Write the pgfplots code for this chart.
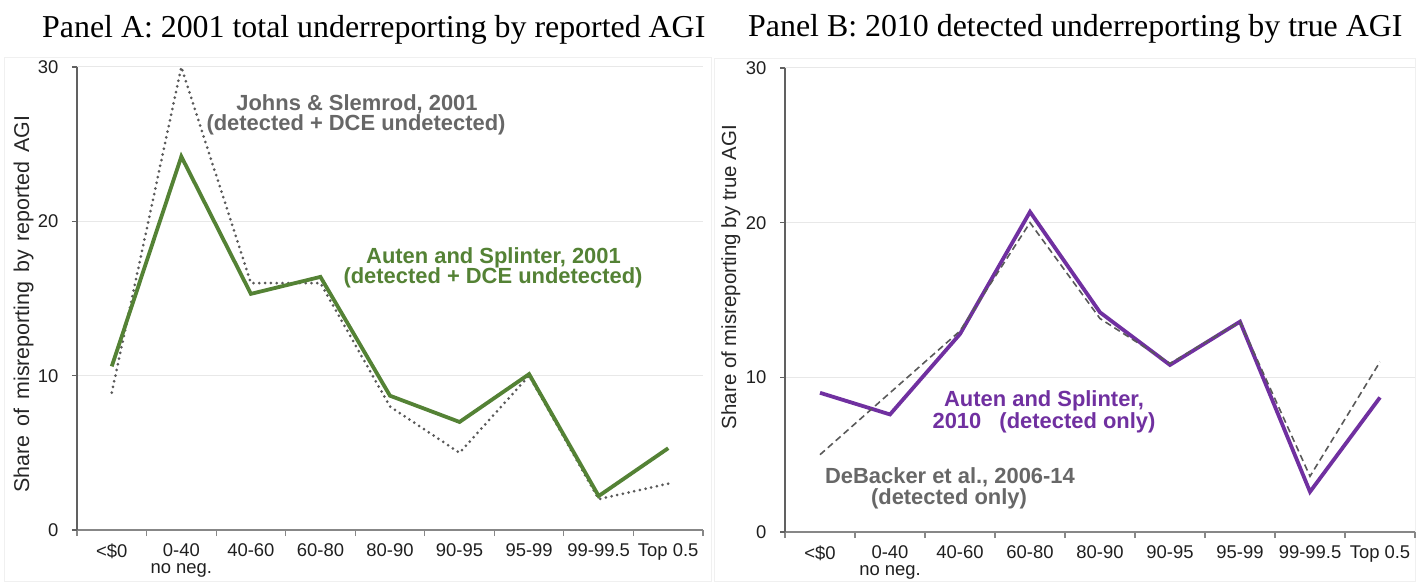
\documentclass[border=0pt]{standalone}
\usepackage{fontspec}
\setmainfont{Liberation Serif}
\newfontfamily\arial{Liberation Sans}
\usepackage{pgfplots}
\pgfplotsset{compat=1.18}

\definecolor{asgreen}{HTML}{548235}
\definecolor{aspurple}{HTML}{7030A0}
\definecolor{refgray}{HTML}{595959}
\definecolor{notegray}{HTML}{676767}

\newcommand{\fs}[1]{\fontsize{#1}{#1}\selectfont}

\pgfplotsset{
  panel/.style={
    scale only axis,
    xmin=0, xmax=9, ymin=0, ymax=30,
    clip=false,
    axis x line=bottom, axis y line=left, axis line style={-},
    x axis line style={color=black!47, line width=1.1bp},
    y axis line style={color=black!62, line width=1.1bp},
    xtick={0.5,1.5,...,8.5},
    xticklabels={{<\$0},{0-40\\no neg.},{40-60},{60-80},{80-90},{90-95},{95-99},{99-99.5},{Top 0.5}},
    minor xtick={0,1,...,9},
    major x tick style={draw=none},
    minor x tick style={black!47, line width=1.1bp},
    ytick={0,10,20,30},
    major y tick style={black!62, line width=1.1bp},
    tick align=outside,
    major tick length=5bp, minor tick length=6bp,
    ymajorgrids,
    major grid style={black!9, line width=1bp},
    /pgf/number format/assume math mode=true,
    tick label style={font=\arial\fontsize{18.5}{17}\selectfont, text=black!88},
    xticklabel style={align=center, yshift=-5bp},
    yticklabel style={xshift=-10bp},
  },
}

\begin{document}
\begin{tikzpicture}
\useasboundingbox (0,0) rectangle (1416bp,582bp);

% light panel frames
\draw[black!6, line width=0.8bp] (4bp,1bp) rectangle (711bp,525bp);
\draw[black!6, line width=0.8bp] (714bp,1bp) rectangle (1415bp,524bp);

% ---------------- Panel A ----------------
\begin{axis}[panel, width=626bp, height=463bp, at={(77bp,52bp)}, anchor=south west]
  % Johns & Slemrod, 2001
  \addplot[refgray, line width=3bp, line cap=round, dash pattern=on 0bp off 5.8bp]
    coordinates {(0.5,8.9) (1.5,30) (2.5,16) (3.5,16) (4.5,8) (5.5,5) (6.5,10) (7.5,2) (8.5,3)};
  % Auten and Splinter, 2001
  \addplot[asgreen, line width=3.8bp]
    coordinates {(0.5,10.6) (1.5,24.2) (2.5,15.3) (3.5,16.4) (4.5,8.7) (5.5,7.0) (6.5,10.1) (7.5,2.2) (8.5,5.3)};
\end{axis}

% ---------------- Panel B ----------------
\begin{axis}[panel, width=630bp, height=464bp, at={(785bp,50bp)}, anchor=south west]
  % Auten and Splinter, 2010
  \addplot[aspurple, line width=3.8bp]
    coordinates {(0.5,9.0) (1.5,7.6) (2.5,12.8) (3.5,20.7) (4.5,14.2) (5.5,10.8) (6.5,13.6) (7.5,2.6) (8.5,8.7)};
  % DeBacker et al., 2006-14
  \addplot[refgray, line width=1.6bp, dash pattern=on 6.5bp off 4bp]
    coordinates {(0.5,5.0) (1.5,9.0) (2.5,13.0) (3.5,20.0) (4.5,13.8) (5.5,10.9) (6.5,13.6) (7.5,3.6) (8.5,11.0)};
\end{axis}

% titles
\node[anchor=base west, inner sep=0pt] at (42bp,544bp)
  {\fs{32}Panel A: 2001 total underreporting by reported AGI};
\node[anchor=base west, inner sep=0pt] at (748bp,545bp)
  {\fs{32}Panel B: 2010 detected underreporting by true AGI};

% y-axis labels
\node[rotate=90, anchor=base, inner sep=0pt, text=black!85] at (29bp,278bp)
  {\arial\fs{21.5}\spaceskip=0.42em Share of misreporting by reported AGI};
\node[rotate=90, anchor=base, inner sep=0pt, text=black!85] at (736bp,305bp)
  {\arial\fs{20.5}Share of misreporting by true AGI};

% series annotations
\begin{scope}[every node/.style={anchor=base, inner sep=0pt, font=\arial\bfseries\fs{22}}]
  \node[text=notegray] at (357bp,471bp) {Johns \& Slemrod, 2001};
  \node[text=notegray] at (356bp,451bp) {(detected + DCE undetected)};
  \node[text=asgreen] at (493.5bp,318bp) {Auten and Splinter, 2001};
  \node[text=asgreen] at (493bp,298bp) {(detected + DCE undetected)};
  \node[text=aspurple] at (1044bp,175bp) {Auten and Splinter,};
  \node[text=aspurple] at (1044bp,153bp) {2010\hspace{0.55em} (detected only)};
  \node[text=notegray] at (950bp,98bp) {DeBacker et al., 2006-14};
  \node[text=notegray] at (949bp,77bp) {(detected only)};
\end{scope}
\end{tikzpicture}
\end{document}
